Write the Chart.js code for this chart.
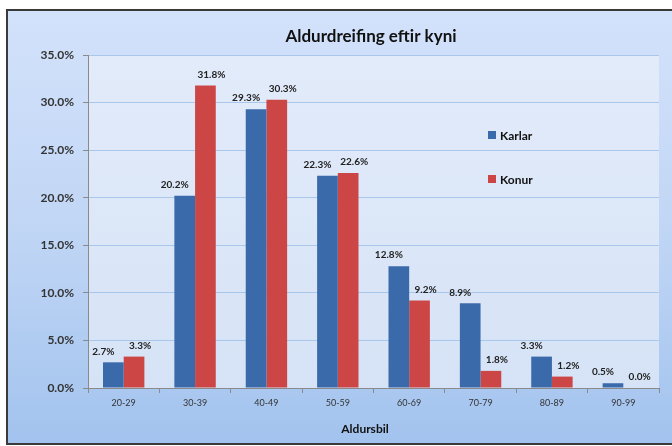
<!DOCTYPE html>
<html>
<head>
<meta charset="utf-8">
<script src="https://cdn.jsdelivr.net/npm/chart.js@4.4.1/dist/chart.umd.min.js"></script>
<style>
html,body{margin:0;padding:0;background:#fff;}
#c{display:block;}
</style>
</head>
<body>
<canvas id="c" width="672" height="446"></canvas>
<script>
const categories = ['20-29','30-39','40-49','50-59','60-69','70-79','80-89','90-99'];
const karlar = [2.7, 20.2, 29.3, 22.3, 12.8, 8.9, 3.3, 0.5];
const konur  = [3.3, 31.8, 30.3, 22.6, 9.2, 1.8, 1.2, 0.0];
const seriesNames = ['Karlar','Konur'];
const chartTitle = 'Aldurdreifing eftir kyni';
const xTitle = 'Aldursbil';

const FONT = 'Lato, "Open Sans", sans-serif';
const BLUE = '#3b6aab';
const RED = '#cd4646';

const bgPlugin = {
  id: 'bg',
  beforeDraw(chart) {
    const ctx = chart.ctx;
    const W = chart.width, H = chart.height;
    ctx.save();
    ctx.fillStyle = '#ffffff';
    ctx.fillRect(0, 0, W, H);
    const g = ctx.createLinearGradient(0, 10, 0, 444);
    g.addColorStop(0, '#d3e2fb');
    g.addColorStop(0.5, '#c1d6f5');
    g.addColorStop(1, '#a2c3ee');
    ctx.fillStyle = g;
    ctx.fillRect(7, 10, W - 7, 434);
    ctx.strokeStyle = '#3a3a3a';
    ctx.lineWidth = 2;
    ctx.beginPath();
    ctx.moveTo(W + 2, 10);
    ctx.lineTo(7, 10);
    ctx.lineTo(7, 444);
    ctx.lineTo(W + 2, 444);
    ctx.stroke();
    const a = chart.chartArea;
    const g2 = ctx.createLinearGradient(0, a.top, 0, a.bottom);
    g2.addColorStop(0, '#e2ebfa');
    g2.addColorStop(1, '#d6e3f6');
    ctx.fillStyle = g2;
    ctx.fillRect(a.left, a.top, a.right - a.left, a.bottom - a.top);
    ctx.restore();
  },
  afterDraw(chart) {
    const ctx = chart.ctx;
    const a = chart.chartArea;
    ctx.save();
    // title
    ctx.fillStyle = '#111';
    ctx.font = 'bold 17px ' + FONT;
    ctx.textAlign = 'center';
    ctx.textBaseline = 'middle';
    ctx.fillText(chartTitle, 371, 37);
    // x axis title
    ctx.font = 'bold 12px ' + FONT;
    ctx.fillText(xTitle, 365, 429);
    // legend
    ctx.textAlign = 'left';
    const ys = [135, 179];
    chart.data.datasets.forEach((ds, i) => {
      ctx.fillStyle = ds.backgroundColor;
      ctx.fillRect(488, ys[i] - 4, 8, 8);
      ctx.fillStyle = '#111';
      ctx.fillText(ds.label, 500, ys[i] + 1);
    });
    ctx.restore();
  },
  afterDatasetsDraw(chart) {
    const ctx = chart.ctx;
    ctx.save();
    ctx.font = 'bold 10px ' + FONT;
    ctx.fillStyle = '#222';
    ctx.textAlign = 'center';
    ctx.textBaseline = 'middle';
    chart.data.datasets.forEach((ds, di) => {
      const meta = chart.getDatasetMeta(di);
      meta.data.forEach((bar, i) => {
        const dx = di === 0 ? -10 : 6;
        ctx.fillText(ds.data[i].toFixed(1) + '%', bar.x + dx, bar.y - 11);
      });
    });
    ctx.restore();
  }
};

new Chart(document.getElementById('c'), {
  type: 'bar',
  data: {
    labels: categories,
    datasets: [
      { label: seriesNames[0], data: karlar, backgroundColor: BLUE },
      { label: seriesNames[1], data: konur, backgroundColor: RED }
    ]
  },
  options: {
    responsive: false,
    animation: false,
    devicePixelRatio: 1,
    layout: { padding: { top: 55, left: 0, right: 13, bottom: 0 } },
    datasets: { bar: { categoryPercentage: 0.58, barPercentage: 1.0 } },
    plugins: { legend: { display: false }, title: { display: false }, tooltip: { enabled: false } },
    scales: {
      x: {
        offset: true,
        afterFit(s) { s.height = 58; },
        grid: { display: true, drawOnChartArea: false, offset: true, tickLength: 5, color: '#8a8a8a' },
        border: { display: true, color: '#8a8a8a' },
        ticks: { font: { family: FONT, size: 9 }, color: '#333', padding: 5, maxRotation: 0 }
      },
      y: {
        min: 0, max: 35,
        afterFit(s) { s.width = 88; },
        grid: { color: '#a9c7eb', tickLength: 5, tickColor: '#8a8a8a' },
        border: { display: true, color: '#8a8a8a' },
        ticks: {
          stepSize: 5,
          font: { family: FONT, size: 12, weight: 'bold' },
          color: '#333',
          padding: 9,
          callback: v => v.toFixed(1) + '%'
        }
      }
    }
  },
  plugins: [bgPlugin]
});
</script>
</body>
</html>
